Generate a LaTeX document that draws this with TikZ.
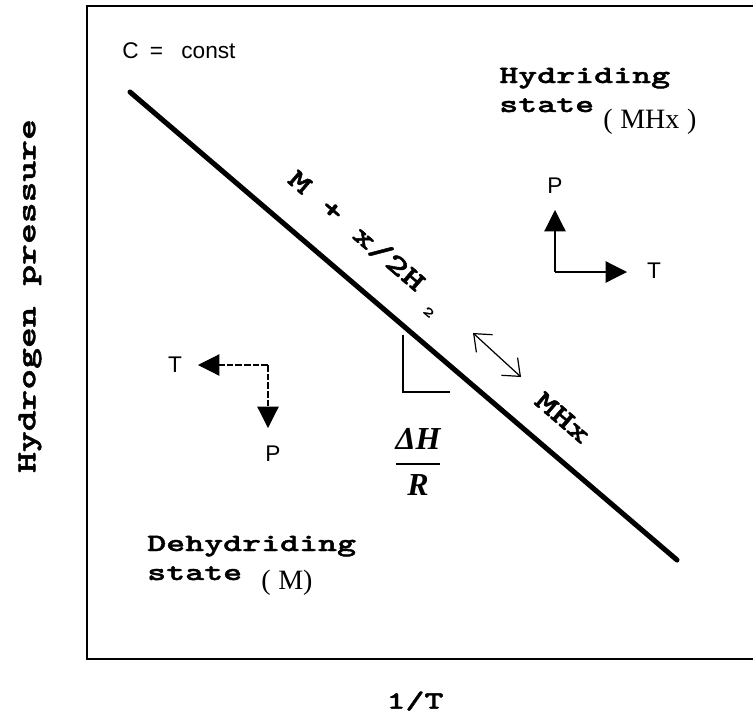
\documentclass[tikz,border=0pt]{standalone}
\usepackage{amsmath}
\usepackage{fontspec}
\setmainfont{Liberation Serif}
\newfontfamily\courfont[FakeStretch=1.45,FakeBold=1.6]{lmmonolt10-bold.otf}
\newfontfamily\helvfont{Liberation Sans}
\usetikzlibrary{arrows.meta,positioning}
\tikzset{
  frame/.style={line width=1.5pt,black},
  phase/.style={line width=3.8pt,line cap=round,black},
  axis/.style={line width=.9pt,-{Triangle[length=16pt,width=16pt]}},
  daxis/.style={axis,dash pattern=on 5pt off 1.5pt},
  eqarrow/.style={line width=.9pt,{Straight Barb[length=11pt,width=18pt]}-{Straight Barb[length=11pt,width=18pt]}},
  slopemark/.style={line width=1.1pt},
  mono/.style={font=\courfont\fontsize{18.7}{22}\selectfont,inner sep=0pt},
  bigmono/.style={font=\courfont\fontsize{21}{24}\selectfont,inner sep=0pt},
  sans/.style={font=\helvfont\fontsize{17}{20}\selectfont,inner sep=0pt},
  serif/.style={font=\fontsize{21}{24}\selectfont,inner sep=0pt}
}

\begin{document}
\begin{tikzpicture}[x=.75pt,y=-.75pt]
  \useasboundingbox (0,0) rectangle (753,718);
  % open frame
  \coordinate (ftr) at (753,6);
  \coordinate (ftl) at (87,6);
  \coordinate (fbl) at (87,659);
  \coordinate (fbr) at (753,659);
  \draw[frame] (ftr) -- (ftl) -- (fbl) -- (fbr);
  \node[mono] (xlab) at (415,701) {1/T};
  \node[mono,font=\courfont\fontsize{20.5}{24}\selectfont,rotate=90] (ylab) at (30,296) {Hydrogen pressure};
  \node[sans,anchor=base west] (const) at (122,58) {C\hspace{.5em}=\hspace{.8em}const};
  % region labels
  \node[mono,anchor=base west] (hyd1) at (499,83) {Hydriding};
  \node[mono,anchor=base west] (hyd2) at (499,112) {state};
  \node[serif,anchor=base west] (hydM) at (603,128) {(\;MHx\;)};
  \node[mono,anchor=base west] (deh1) at (147,551) {Dehydriding};
  \node[mono,anchor=base west] (deh2) at (147,580) {state};
  \node[serif,anchor=base west] (dehM) at (261,589) {(\;M)};
  % equilibrium line
  \coordinate (pA) at (130,92);
  \coordinate (pB) at (677,560);
  \draw[phase] (pA) -- (pB);
  \node[bigmono,anchor=base west,rotate=-40.55] (react) at (286.2,181.6)
    {M + x/2H\hspace{13pt}\raisebox{-8pt}{\fontsize{10}{10}\selectfont 2}};
  \node[bigmono,anchor=base west,rotate=-40.55] (prod) at (532.9,403.1) {MHx};
  \coordinate (eqA) at (473,333);
  \coordinate (eqB) at (521,377);
  \draw[eqarrow] (eqA) -- (eqB);
  % slope
  \coordinate (sTop) at (403,335);
  \coordinate (sCorner) at (403,392);
  \coordinate (sEnd) at (450,392);
  \draw[slopemark] (sTop) -- (sCorner) -- (sEnd);
  \node[serif,font=\fontsize{24}{28}\selectfont\bfseries\itshape] (dHR) at (418,462)
    {$\genfrac{}{}{1.1pt}{0}{\text{ΔH}}{\text{R}}$};
  % hydriding directions
  \coordinate (hcorner) at (555,272);
  \coordinate (hup) at (555,210);
  \coordinate (hright) at (627,272);
  \draw[axis] (hcorner) -- (hup);
  \draw[axis] (hcorner) -- (hright);
  \node[sans] (hP) at (555,186) {P};
  \node[sans] (hT) at (654,271) {T};
  % dehydriding directions
  \coordinate (dcorner) at (268,365);
  \coordinate (dleft) at (198,365);
  \coordinate (ddown) at (268,428);
  \draw[daxis] (dcorner) -- (dleft);
  \draw[daxis] (dcorner) -- (ddown);
  \node[sans] (dT) at (175,365) {T};
  \node[sans] (dP) at (273,454) {P};
\end{tikzpicture}
\end{document}
